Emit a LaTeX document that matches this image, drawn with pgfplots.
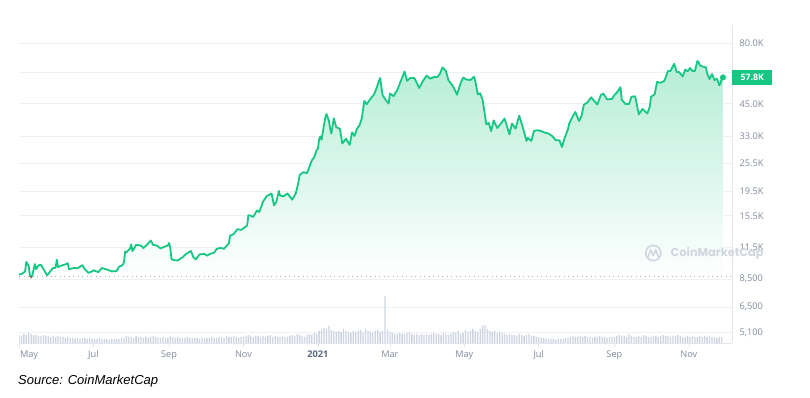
\documentclass[border=0pt]{standalone}
\usepackage{fontspec}
\setmainfont{Open Sans}
\newfontfamily\srcfont{Liberation Sans}
\newfontfamily\wmfont{Poppins}
\usepackage{pgfplots}
\pgfplotsset{compat=1.18}
\usepackage{pgfplotstable}
\definecolor{cmcgreen}{HTML}{16C784}
\definecolor{cmcred}{HTML}{EA3943}
\definecolor{gridc}{HTML}{EFF2F5}
\definecolor{axc}{HTML}{E3E7ED}
\definecolor{lab}{HTML}{808A9D}
\definecolor{lab2}{HTML}{58667E}
\definecolor{vol}{HTML}{CDD3E0}
\definecolor{wm}{HTML}{C6CDDA}
\definecolor{dotc}{HTML}{A6B0C3}

\pgfplotstableread{
d p
0 8860
2 8910
4 9030
5 9150
6 9990
7 9810
8 9590
9 8760
10 8650
11 8820
12 9320
13 9790
14 9320
16 9670
18 9730
19 9520
21 9170
23 8790
24 8910
26 9200
28 9430
30 9450
31 10200
32 9520
35 9660
38 9760
40 9870
41 9320
45 9430
48 9410
52 9690
54 9310
57 9010
60 9140
61 9230
65 9070
68 9430
72 9300
76 9130
80 9160
82 9540
85 9700
86 9930
87 11030
88 10940
91 11350
92 11800
93 11070
96 11750
100 11680
102 11400
105 11790
108 12250
110 11750
113 11680
116 11360
119 11530
122 11680
123 11970
124 11410
125 10250
127 10170
130 10130
134 10440
136 10680
139 10950
141 11080
143 10420
145 10240
148 10730
152 10780
154 10600
157 10800
160 10920
162 11300
165 11430
168 11320
172 11920
173 12820
176 13030
179 13650
182 13550
184 13740
187 14130
188 15580
189 15570
192 15330
195 16300
197 16070
200 17730
203 18680
207 19160
209 17130
211 17720
213 19630
214 18800
217 18660
220 19180
224 18060
227 19270
229 21310
230 22800
233 23480
236 23240
238 24660
240 26270
242 27080
244 28990
245 29370
246 32130
247 33000
248 31970
250 36820
251 39370
252 40800
254 38350
255 35570
256 33920
258 39190
260 36000
263 35500
265 30830
268 32300
271 30430
273 34300
275 33100
277 35500
279 36600
281 39200
283 46200
285 44800
288 47100
291 49200
293 52100
295 55900
296 57500
298 48800
301 46300
303 45100
304 49600
307 48400
310 51200
313 56000
316 61200
318 56000
321 57600
324 57500
328 52300
331 55800
334 58800
337 57100
340 58000
343 58100
345 59800
347 63500
348 62900
350 61300
352 56200
355 53800
357 51700
359 49000
362 54800
364 57700
367 56600
370 56400
373 58200
374 55800
376 49200
378 49700
380 46700
383 37000
385 37500
387 34700
389 38400
392 35700
395 37300
398 39100
402 33600
404 37300
407 35500
410 40200
413 35800
416 31600
417 32500
420 31600
422 34700
425 35000
428 34700
431 34200
434 33900
437 33100
440 31800
443 31800
445 29800
447 32300
450 35400
451 37300
454 40000
456 41600
459 38200
461 40000
463 44600
466 45600
469 47800
472 45900
474 44700
477 49000
479 49500
482 46900
486 47100
488 48900
490 50000
493 52700
494 46800
497 44900
500 44900
502 48100
505 48300
508 40700
511 42800
515 41000
517 43800
518 48100
521 49200
523 55400
526 54900
529 56000
532 61500
534 61500
537 65900
539 60900
541 60800
544 58400
546 62200
548 61300
550 63200
552 61400
554 61500
556 67600
557 66900
558 64900
560 64200
563 63600
564 60100
566 56900
568 59700
570 56300
572 57200
574 53600
575 54800
576 57200
577 57800
}\price

\begin{document}
\begin{tikzpicture}
\path[use as bounding box] (0,0) rectangle (810pt,398pt);

\begin{axis}[
  at={(19pt,55pt)}, anchor=south west, scale only axis,
  width=713pt, height=318pt,
  xmin=0, xmax=584.4,
  ymode=log, ymin=4621, ymax=95200,
  axis y line*=right, axis x line*=bottom,
  axis line style={-, draw=axc, line width=0.6pt},
  ytick={5100,6500,8500,11500,15500,19500,25500,33000,45000,60500,80000},
  yticklabels={{5,100},{6,500},{8,500},11.5K,15.5K,19.5K,25.5K,33.0K,45.0K,{},80.0K},
  ymajorgrids, grid style={draw=gridc, line width=0.6pt},
  ytick style={draw=none}, minor y tick style={draw=none},
  yticklabel style={anchor=west, xshift=4pt, text=lab, font=\fontsize{9.2}{10}\selectfont},
  xtick={0,61,123,184,245,304,365,426,488,549},
  xticklabels={{\makebox[0pt][l]{\hspace{1pt}May}},Jul,Sep,Nov,{\color{lab2}\bfseries 2021},Mar,May,Jul,Sep,Nov},
  xtick style={draw=axc, line width=0.6pt},
  xtick align=outside, major tick length=4pt,
  xticklabel style={text=lab, font=\fontsize{9.2}{10}\selectfont},
  clip mode=individual,
]
\addplot[draw=none, top color=cmcgreen!32!white, bottom color=white, forget plot] table[x=d,y=p]{\price} -- (axis cs:577,8700) -- (axis cs:0,8700) -- cycle;
\addplot[dotc, line width=1pt, dash pattern=on 1pt off 3.5pt, forget plot] coordinates {(0,8700) (584.4,8700)};
\addplot[cmcgreen, line width=1.8pt, line join=round, forget plot] table[x=d,y=p]{\price};
\addplot[cmcred, line width=1.6pt, forget plot] coordinates {(9.6,8700) (10,8650) (10.4,8700)};
\addplot[only marks, mark=*, mark size=2.8pt, cmcgreen, forget plot] coordinates {(577,57800)};
\node[fill=cmcgreen, text=white, anchor=west, inner sep=0pt, minimum width=40pt, minimum height=15pt, font=\bfseries\fontsize{8.8}{10}\selectfont] at (axis cs:584.4,57800) {57.8K};
\end{axis}

% watermark (drawn over the area fill)
\begin{scope}[opacity=0.8]
\draw[wm, line width=1.6pt] (653.3pt,145pt) circle (7.6pt);
\draw[wm, line width=1.5pt, line join=round, line cap=round] (648.2pt,141.3pt) -- (650.6pt,148.2pt) -- (653.2pt,142.5pt) -- (655.8pt,148.2pt) -- (658.2pt,141.3pt);
\node[anchor=west, inner sep=0pt, text=wm, font=\wmfont\bfseries\fontsize{11.4}{13}\selectfont] at (670.5pt,145pt) {CoinMarketCap};
\end{scope}

\begin{axis}[
  at={(19pt,55pt)}, anchor=south west, scale only axis,
  width=713pt, height=318pt,
  xmin=0, xmax=584.4, ymin=0, ymax=318,
  axis lines=none, ticks=none,
]
\addplot[ybar, bar width=1.3pt, fill=vol, draw=none] coordinates {
(0,8)(2,7)(4,9)(6,8)(8,10)(10,9)(12,8)(14,8)(16,7)(18,7)(20,8)(22,7)(24,7)(26,6)(28,7)(30,6)
(32,7)(34,6)(36,6)(38,5)(40,6)(42,5)(44,5)(46,4)(48,5)(50,4)(52,5)(54,5)(56,4)(58,5)(60,4)
(62,4)(64,4)(66,5)(68,4)(70,4)(72,4)(74,3)(76,4)(78,4)(80,4)(82,4)(84,5)(86,5)
(88,7)(90,6)(92,6)(94,5)(96,7)(98,6)(100,6)(102,5)(104,6)(106,5)(108,6)(110,7)(112,6)(114,5)(116,5)(118,6)(120,5)(122,5)
(124,7)(126,6)(128,5)(130,6)(132,5)(134,5)(136,5)(138,6)(140,5)(142,5)(144,5)(146,5)(148,4)(150,5)(152,5)(154,5)(156,5)(158,6)(160,5)(162,5)(164,6)(166,6)(168,5)(170,7)(172,6)(174,6)(176,7)(178,6)(180,5)(182,6)
(184,6)(186,7)(188,8)(190,7)(192,6)(194,7)(196,7)(198,6)(200,7)(202,6)(204,7)(206,8)(208,6)(210,7)(212,6)(214,6)(216,7)(218,6)(220,6)(222,7)(224,8)(226,7)(228,9)(230,8)(232,7)(234,6)(236,8)(238,9)(240,8)(242,10)(244,9)
(246,12)(248,13)(250,15)(252,14)(254,17)(256,13)(258,12)(260,11)(262,12)(264,11)(266,14)(268,12)(270,11)(272,10)(274,12)
(276,11)(278,12)(280,13)(282,10)(284,14)(286,12)(288,11)(290,10)(292,12)(294,13)(296,11)(298,12)(300,47)(302,13)
(304,11)(306,10)(308,9)(310,9)(312,10)(314,9)(316,9)(318,10)(320,11)(322,9)(324,8)(326,9)(328,8)(330,9)(332,8)(334,9)(336,8)(338,9)(340,10)(342,9)(344,9)(346,8)(348,10)(350,9)(352,8)(354,9)(356,11)(358,10)(360,12)(362,9)(364,10)
(366,13)(368,11)(370,12)(372,14)(374,12)(376,11)(378,14)(380,17)(382,18)(384,14)(386,12)(388,11)(390,12)(392,10)(394,11)
(396,10)(398,9)(400,8)(402,9)(404,8)(406,8)(408,7)(410,9)(412,8)(414,7)(416,8)(418,9)(420,7)(422,7)(424,6)
(426,6)(428,5)(430,5)(432,4)(434,4)(436,4)(438,4)(440,3)(442,4)(444,4)(446,4)(448,5)(450,5)(452,6)(454,7)(456,6)
(458,6)(460,7)(462,6)(464,7)(466,6)(468,6)(470,5)(472,6)(474,6)(476,7)(478,6)(480,6)(482,5)(484,6)(486,6)(488,6)(490,7)(492,8)(494,7)(496,7)(498,6)(500,9)(502,7)(504,6)(506,6)(508,7)(510,6)(512,8)(514,7)(516,6)
(518,6)(520,7)(522,7)(524,6)(526,7)(528,8)(530,7)(532,7)(534,6)(536,7)(538,7)(540,8)(542,7)(544,6)(546,6)(548,7)(550,6)(552,7)(554,6)(556,6)(558,7)(560,6)(562,7)(564,6)(566,7)(568,6)(570,6)(572,5)(574,6)(576,6)
};
\end{axis}

\node[anchor=west, inner sep=0pt, font=\srcfont\itshape\fontsize{13}{15}\selectfont] at (18pt,16.5pt) {Source: CoinMarketCap};
\end{tikzpicture}
\end{document}
